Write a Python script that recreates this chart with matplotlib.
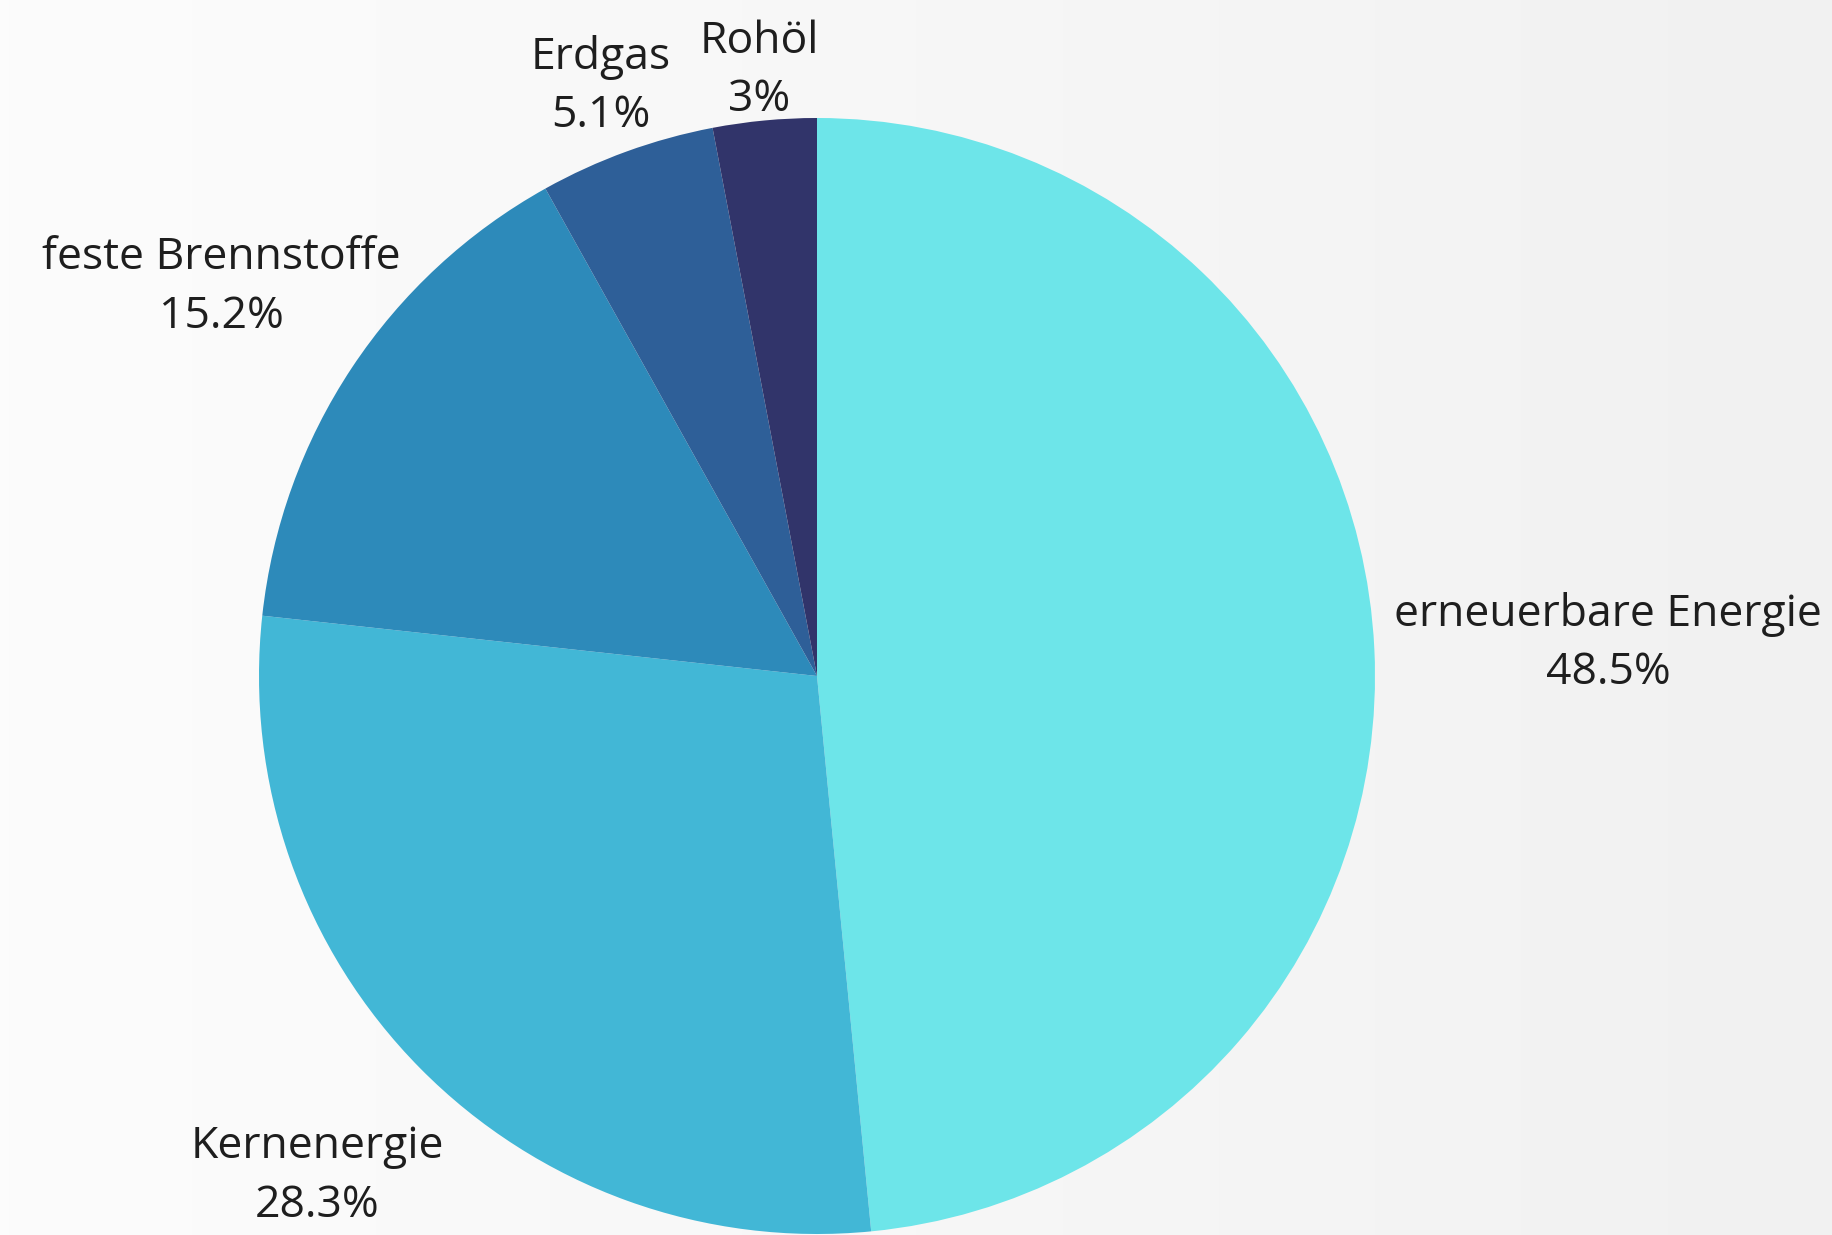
import matplotlib.pyplot as plt
import numpy as np

plt.rcParams['font.family'] = ['Open Sans', 'DejaVu Sans']

# data
categories = ['erneuerbare Energie', 'Kernenergie', 'feste Brennstoffe', 'Erdgas', 'Rohöl']
shares = [48.5, 28.3, 15.2, 5.1, 3.0]
share_labels = ['48.5%', '28.3%', '15.2%', '5.1%', '3%']
colors = ['#6de5e9', '#42b7d6', '#2d8aba', '#2e5f98', '#31346a']
label_dist = [1.42, 1.26, 1.28, 1.135, 1.10]

W, H = 1833, 1235
fig = plt.figure(figsize=(W / 100, H / 100), dpi=100)
ax = fig.add_axes([0, 0, 1, 1])

# light grey background gradient
gx = np.linspace(0, 1, 200)
grad = np.tile(gx, (50, 1))
ax.imshow(grad, extent=(0, W, 0, H), cmap=plt.cm.colors.LinearSegmentedColormap.from_list(
    'bg', ['#fcfcfc', '#f7f7f7', '#f1f1f1']), aspect='auto', zorder=0)

cx, cy, r = 817, H - 676, 558
wedges, _ = ax.pie(shares, colors=colors, startangle=90, counterclock=False,
                   center=(cx, cy), radius=r, frame=True,
                   wedgeprops=dict(linewidth=0))
ax.set_xlim(0, W)
ax.set_ylim(0, H)
ax.set_aspect('equal')
ax.axis('off')

for w, cat, lab, d in zip(wedges, categories, share_labels, label_dist):
    ang = np.deg2rad((w.theta1 + w.theta2) / 2)
    x = cx + r * d * np.cos(ang)
    y = cy + r * d * np.sin(ang) - 6
    ax.text(x, y, f'{cat}\n{lab}', ha='center', va='center', fontsize=32,
            color='#1e1e1e', linespacing=1.42, zorder=5)

fig.savefig('out.png', dpi=100)
